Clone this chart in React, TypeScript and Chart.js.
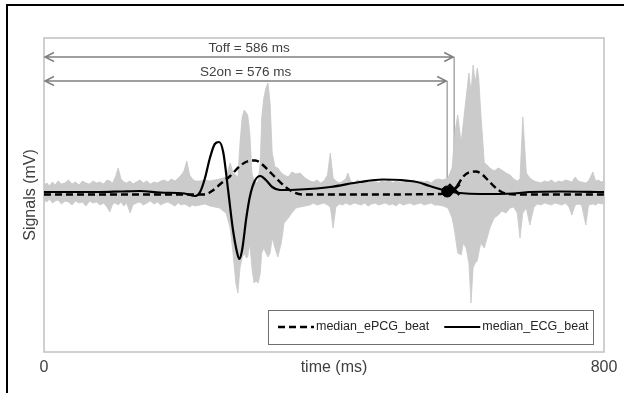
import React, { useEffect, useRef } from 'react';
import { Chart, registerables } from 'chart.js';

Chart.register(...registerables);

// ---- gray overlaid beats (envelope of all ePCG beats) ----
const GRAY_T = [
  0, 4, 8, 12, 16, 20, 25, 30, 35, 40, 45, 50, 55, 60, 65, 70, 75, 80, 85, 90, 94, 98, 102, 106, 110, 114, 118, 123, 127, 132,
  137, 142, 147, 152, 157, 162, 167, 172, 177, 182, 187, 192, 196, 200, 204, 208, 212, 216,
  223, 230, 237, 244, 251, 256, 260, 266, 270, 274, 277, 280, 283, 286, 289, 291, 294, 297, 300, 303, 306, 309, 311, 314,
  317, 320, 323, 326, 330, 334, 339, 343, 349, 354, 360, 366, 373, 380,
  385, 390, 395, 400, 405, 409, 413, 417, 422, 427, 431, 434, 438, 443, 448, 453, 458, 463, 468, 473, 478, 483, 488, 493,
  498, 503, 508, 513, 518, 523, 528, 533, 538, 543, 548, 553, 558, 563, 570,
  577, 583, 587, 591, 596, 599, 603, 607, 610, 613, 616, 619, 621, 624, 629, 633, 637, 643, 649, 654, 660, 666, 671, 676,
  680, 684, 689, 694, 700,
  705, 710, 715, 720, 725, 730, 735, 740, 745, 750, 754, 759, 763, 768, 774, 778, 784, 788, 792, 796, 800,
];
const GRAY_HI = [
  0.08, 0.1, 0.07, 0.11, 0.08, 0.12, 0.09, 0.1, 0.13, 0.09, 0.11, 0.08, 0.12, 0.1, 0.09, 0.12, 0.1, 0.11, 0.09, 0.13, 0.12, 0.1, 0.16, 0.25, 0.14, 0.11, 0.1, 0.12, 0.09, 0.11,
  0.13, 0.1, 0.12, 0.09, 0.11, 0.1, 0.12, 0.13, 0.11, 0.14, 0.12, 0.15, 0.18, 0.22, 0.32, 0.18, 0.14, 0.12,
  0.12, 0.13, 0.12, 0.13, 0.14, 0.15, 0.16, 0.3, 0.2, 0.18, 0.15, 0.5, 0.75, 0.83, 0.8, 0.78, 0.6, 0.2, 0.12, 0.1, 0.12, 0.3, 0.75, 0.95,
  1.05, 1.1, 0.9, 0.4, 0.26, 0.25, 0.2, 0.18, 0.16, 0.21, 0.19, 0.2, 0.15, 0.12,
  0.11, 0.13, 0.1, 0.12, 0.18, 0.4, 0.15, 0.12, 0.1, 0.12, 0.14, 0.2, 0.12, 0.1, 0.13, 0.11, 0.12, 0.1, 0.13, 0.12, 0.1, 0.12, 0.11, 0.13,
  0.1, 0.12, 0.11, 0.1, 0.12, 0.11, 0.13, 0.1, 0.12, 0.11, 0.12, 0.1, 0.13, 0.14, 0.13,
  0.15, 0.25, 0.6, 0.78, 0.5, 0.7, 0.95, 1.2, 1.0, 1.28, 1.1, 1.25, 1.15, 0.8, 0.3, 0.28, 0.25, 0.22, 0.25, 0.23, 0.2, 0.18, 0.14, 0.12,
  0.14, 0.76, 0.2, 0.15, 0.12,
  0.11, 0.1, 0.12, 0.11, 0.13, 0.1, 0.12, 0.11, 0.13, 0.12, 0.11, 0.16, 0.12, 0.11, 0.1, 0.12, 0.21, 0.12, 0.13, 0.11, 0.12,
];
const GRAY_LO = [
  -0.07, -0.09, -0.06, -0.1, -0.08, -0.07, -0.11, -0.08, -0.09, -0.12, -0.08, -0.1, -0.09, -0.13, -0.08, -0.1, -0.09, -0.12, -0.1, -0.14, -0.19, -0.11, -0.1, -0.12, -0.09, -0.13, -0.1, -0.2, -0.12, -0.1,
  -0.09, -0.12, -0.1, -0.08, -0.11, -0.09, -0.12, -0.1, -0.09, -0.11, -0.13, -0.1, -0.12, -0.11, -0.12, -0.14, -0.12, -0.13,
  -0.12, -0.11, -0.13, -0.14, -0.15, -0.18, -0.2, -0.35, -0.6, -0.9, -1.0, -0.75, -0.65, -0.6, -0.65, -0.64, -0.5, -0.75, -0.9, -0.88, -0.9, -0.8, -0.6, -0.55,
  -0.6, -0.64, -0.6, -0.45, -0.55, -0.64, -0.5, -0.3, -0.25, -0.2, -0.15, -0.14, -0.13, -0.12,
  -0.1, -0.12, -0.11, -0.1, -0.12, -0.14, -0.35, -0.14, -0.11, -0.12, -0.1, -0.11, -0.12, -0.1, -0.11, -0.12, -0.1, -0.13, -0.11, -0.1, -0.12, -0.11, -0.1, -0.12,
  -0.11, -0.13, -0.1, -0.12, -0.11, -0.1, -0.12, -0.11, -0.1, -0.12, -0.11, -0.1, -0.12, -0.12, -0.13,
  -0.15, -0.25, -0.4, -0.6, -0.62, -0.5, -0.55, -0.7, -1.1, -0.75, -0.7, -0.68, -0.6, -0.5, -0.55, -0.45, -0.35, -0.25, -0.22, -0.18, -0.2, -0.15, -0.14, -0.2,
  -0.45, -0.2, -0.15, -0.32, -0.14,
  -0.11, -0.12, -0.1, -0.11, -0.12, -0.1, -0.11, -0.12, -0.1, -0.14, -0.22, -0.12, -0.11, -0.12, -0.32, -0.12, -0.11, -0.12, -0.1, -0.11, -0.1,
];

// ---- median ECG beat ----
const ECG_T = [0, 40, 80, 109, 137, 166, 201, 216, 223, 230, 237, 244, 250, 256, 263, 270, 276, 279, 283, 289, 294, 301, 309, 317, 326, 337, 366, 409, 451, 484, 509, 533, 551, 576, 594, 623, 670, 694, 737, 800];
const ECG_V = [0.01, 0.01, 0.01, 0.015, 0.02, 0.005, -0.005, -0.03, 0.01, 0.15, 0.35, 0.49, 0.51, 0.41, 0.03, -0.37, -0.6, -0.66, -0.57, -0.25, -0.04, 0.12, 0.17, 0.13, 0.06, 0.03, 0.035, 0.06, 0.11, 0.135, 0.13, 0.11, 0.07, 0.02, 0, -0.01, -0.005, 0.01, 0.015, 0.01];

// ---- median ePCG beat ----
const PCG_T = [0, 100, 200, 230, 240, 252, 266, 280, 292, 302, 311, 320, 330, 345, 356, 370, 450, 566, 580, 590, 599, 609, 617, 626, 634, 641, 649, 659, 680, 740, 800];
const PCG_V = [-0.015, -0.015, -0.015, -0.015, 0.02, 0.09, 0.17, 0.27, 0.32, 0.325, 0.29, 0.23, 0.16, 0.06, 0.01, -0.015, -0.015, -0.01, 0.01, 0.07, 0.165, 0.21, 0.215, 0.185, 0.13, 0.08, 0.03, -0.005, -0.015, -0.015, -0.015];

// ---- markers (S2 onset, T offset) ----
const MARK_T = [576, 586];
const MARK_V = [0.015, 0.035];

// ---- annotations ----
const ANNOT_T = [586, 576];
const ANNOT_LEVEL = [1.36, 1.12];
const ANNOT_LABEL = ['Toff = 586 ms', 'S2on = 576 ms'];

const X_TICKS = [0, 800];
const SERIES_LABELS = ['median_ePCG_beat', 'median_ECG_beat'];
const X_TITLE = 'time (ms)';
const Y_TITLE = 'Signals (mV)';

const FONT = '"Liberation Sans", Arial, sans-serif';

const overlayPlugin = {
  id: 'overlay',
  beforeDatasetsDraw(chart: any) {
    const { ctx, chartArea: a, scales } = chart;
    const xs = scales.x;
    const ys = scales.y;
    ctx.save();
    ctx.strokeStyle = '#c0c0c0';
    ctx.lineWidth = 1.5;
    ctx.strokeRect(a.left, a.top, a.right - a.left, a.bottom - a.top);

    ANNOT_T.forEach((t, i) => {
      const x0 = xs.getPixelForValue(0);
      const x1 = xs.getPixelForValue(t);
      const yl = ys.getPixelForValue(ANNOT_LEVEL[i]);
      const yb = ys.getPixelForValue(MARK_V[MARK_T.indexOf(t)] ?? 0);
      ctx.strokeStyle = '#a8a8a8';
      ctx.lineWidth = 1.5;
      ctx.beginPath();
      ctx.moveTo(x1, yl);
      ctx.lineTo(x1, yb);
      ctx.stroke();
      ctx.strokeStyle = '#808080';
      ctx.lineWidth = 1.5;
      ctx.beginPath();
      ctx.moveTo(x0 + 1, yl);
      ctx.lineTo(x1 - 1, yl);
      ctx.moveTo(x0 + 10, yl - 4.5);
      ctx.lineTo(x0 + 1, yl);
      ctx.lineTo(x0 + 10, yl + 4.5);
      ctx.moveTo(x1 - 10, yl - 4.5);
      ctx.lineTo(x1 - 1, yl);
      ctx.lineTo(x1 - 10, yl + 4.5);
      ctx.stroke();
      ctx.fillStyle = '#404040';
      ctx.font = `13.5px ${FONT}`;
      ctx.textAlign = 'center';
      ctx.textBaseline = 'middle';
      ctx.fillText(ANNOT_LABEL[i], (x0 + x1) / 2, yl - 8.5);
    });
    ctx.restore();
  },
  afterDraw(chart: any) {
    const { ctx, chartArea: a, data } = chart;
    ctx.save();
    ctx.fillStyle = '#404040';
    ctx.font = `16px ${FONT}`;
    ctx.textAlign = 'center';
    ctx.textBaseline = 'middle';
    ctx.fillText(X_TITLE, (a.left + a.right) / 2 + 10, a.bottom + 15.5);

    const left = a.right - 336;
    const top = a.bottom - 42;
    const w = 325;
    const h = 34;
    ctx.fillStyle = '#ffffff';
    ctx.fillRect(left, top, w, h);
    ctx.strokeStyle = '#6e6e6e';
    ctx.lineWidth = 1;
    ctx.strokeRect(left + 0.5, top + 0.5, w, h);
    const cy = top + h / 2;
    ctx.font = `12.5px ${FONT}`;
    ctx.textAlign = 'left';
    let cx = left + 10;
    const dsIdx = [2, 3];
    dsIdx.forEach((di, k) => {
      const ds = data.datasets[di];
      ctx.strokeStyle = ds.borderColor;
      ctx.lineWidth = ds.borderWidth;
      ctx.setLineDash(ds.borderDash || []);
      ctx.beginPath();
      ctx.moveTo(cx, cy);
      ctx.lineTo(cx + 36, cy);
      ctx.stroke();
      ctx.setLineDash([]);
      ctx.fillStyle = '#262626';
      ctx.fillText(SERIES_LABELS[k], cx + 38, cy);
      cx = cx + 38 + ctx.measureText(SERIES_LABELS[k]).width + 15;
    });
    ctx.restore();
  },
};

export default function App() {
  const ref = useRef<HTMLCanvasElement>(null);
  useEffect(() => {
    Chart.defaults.font.family = FONT;
    const pts = (ts: number[], vs: number[]) => ts.map((t, i) => ({ x: t, y: vs[i] }));
    const chart = new Chart(ref.current as HTMLCanvasElement, {
      type: 'line',
      data: {
        datasets: [
          {
            label: 'beats_low',
            data: pts(GRAY_T, GRAY_LO),
            borderColor: '#c6c6c6',
            borderWidth: 0.8,
            pointRadius: 0,
            fill: false,
            tension: 0,
            order: 5,
          },
          {
            label: 'beats_high',
            data: pts(GRAY_T, GRAY_HI),
            borderColor: '#c6c6c6',
            backgroundColor: '#cbcbcb',
            borderWidth: 0.8,
            pointRadius: 0,
            fill: '-1',
            tension: 0,
            order: 4,
          },
          {
            label: SERIES_LABELS[0],
            data: pts(PCG_T, PCG_V),
            borderColor: '#000000',
            borderWidth: 2.4,
            borderDash: [7, 4],
            pointRadius: 0,
            fill: false,
            cubicInterpolationMode: 'monotone',
            order: 3,
          },
          {
            label: SERIES_LABELS[1],
            data: pts(ECG_T, ECG_V),
            borderColor: '#000000',
            borderWidth: 2.2,
            pointRadius: 0,
            fill: false,
            cubicInterpolationMode: 'monotone',
            order: 2,
          },
          {
            label: 'S2on',
            data: [{ x: MARK_T[0], y: MARK_V[0] }],
            showLine: false,
            pointStyle: 'circle',
            pointRadius: 5.5,
            backgroundColor: '#000000',
            borderColor: '#000000',
            borderWidth: 1,
            order: 0,
          },
          {
            label: 'Toff',
            data: [{ x: MARK_T[1], y: MARK_V[1] }],
            showLine: false,
            pointStyle: 'crossRot',
            pointRadius: 7.5,
            borderColor: '#000000',
            borderWidth: 3,
            order: 1,
          },
        ] as any,
      },
      options: {
        responsive: false,
        animation: false,
        events: [],
        layout: { padding: { left: 16.9, right: 20, top: 38, bottom: 9.8 } },
        plugins: { legend: { display: false }, tooltip: { enabled: false } },
        scales: {
          x: {
            type: 'linear',
            min: 0,
            max: 800,
            afterBuildTicks: (s: any) => {
              s.ticks = X_TICKS.map((v) => ({ value: v }));
            },
            ticks: { padding: 6, color: '#404040', font: { size: 16 }, maxRotation: 0, autoSkip: false },
            grid: { display: false, drawTicks: false },
            border: { display: false },
          },
          y: {
            type: 'linear',
            min: -1.59,
            max: 1.55,
            ticks: { display: false },
            grid: { display: false, drawTicks: false },
            border: { display: false },
            title: {
              display: true,
              text: Y_TITLE,
              color: '#404040',
              font: { size: 16 },
              padding: { top: 4, bottom: 3.9 },
            },
          },
        },
      } as any,
      plugins: [overlayPlugin],
    });
    return () => chart.destroy();
  }, []);
  return (
    <div style={{ position: 'absolute', left: 0, top: 0, width: 624, height: 393, background: '#fff', overflow: 'hidden' }}>
      <canvas ref={ref} width={624} height={393} style={{ display: 'block' }} />
      <div
        style={{
          position: 'absolute',
          left: 6,
          top: 4,
          right: -10,
          bottom: -10,
          borderTop: '2px solid #000',
          borderLeft: '2px solid #000',
          pointerEvents: 'none',
        }}
      />
    </div>
  );
}
